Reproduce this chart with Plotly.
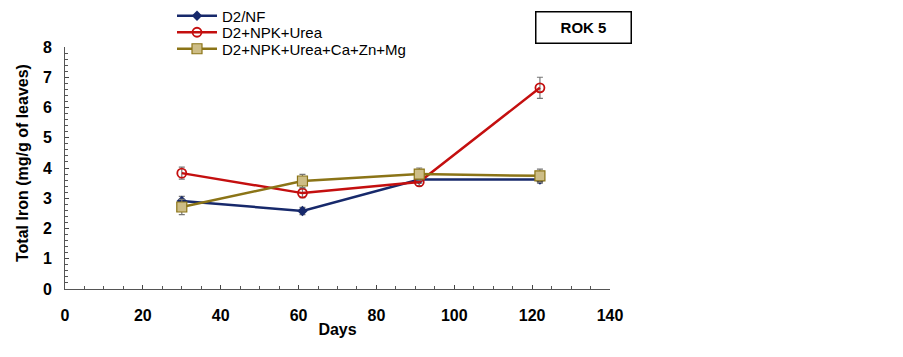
import plotly.graph_objects as go

days = [30, 61, 91, 122]
nf = [2.91, 2.58, 3.62, 3.62]
nf_err = [0.15, 0.12, 0.12, 0.12]
urea = [3.83, 3.17, 3.54, 6.65]
urea_err = [0.2, 0.15, 0.12, 0.35]
mix = [2.71, 3.57, 3.80, 3.74]
mix_err = [0.25, 0.22, 0.2, 0.22]

names = ["D2/NF", "D2+NPK+Urea", "D2+NPK+Urea+Ca+Zn+Mg"]
x_ticks = [0, 20, 40, 60, 80, 100, 120, 140]
y_ticks = [0, 1, 2, 3, 4, 5, 6, 7, 8]

FONT = "Liberation Sans, Arial, sans-serif"
W, H = 903, 357
OFF = 8  # page body margin

fig = go.Figure()
fig.add_trace(go.Scatter(
    x=days, y=nf, name=names[0], mode="lines+markers", legend="legend",
    line=dict(color="#17296B", width=2.5),
    marker=dict(symbol="diamond", size=8, color="#17296B"),
    error_y=dict(type="data", array=nf_err, color="#777777", thickness=1.2, width=3)))
fig.add_trace(go.Scatter(
    x=days, y=urea, name=names[1], mode="lines+markers", legend="legend2",
    line=dict(color="#C40F0F", width=2.5),
    marker=dict(symbol="circle-open", size=9, color="#C40F0F", line=dict(width=1.8)),
    error_y=dict(type="data", array=urea_err, color="#777777", thickness=1.2, width=3)))
fig.add_trace(go.Scatter(
    x=days, y=mix, name=names[2], mode="lines+markers", legend="legend3",
    line=dict(color="#8B7417", width=2.5),
    marker=dict(symbol="square", size=10, color="#CDBD86", line=dict(color="#8B7417", width=1.2)),
    error_y=dict(type="data", array=mix_err, color="#777777", thickness=1.2, width=3)))

def leg(ycen):
    return dict(xref="container", yref="container", x=(172 - OFF) / W, y=1 - (ycen - OFF) / H,
                xanchor="left", yanchor="middle",
                font=dict(size=15, family=FONT, color="black"),
                bgcolor="rgba(0,0,0,0)", itemwidth=40)

fig.update_layout(
    width=W, height=H,
    margin=dict(l=65 - OFF, r=W - (610 - OFF), t=47 - OFF, b=H - (289 - OFF), autoexpand=False),
    paper_bgcolor="white", plot_bgcolor="white",
    font=dict(family=FONT, color="black"),
    legend=leg(16), legend2=leg(32.5), legend3=leg(49),
    showlegend=True,
    xaxis=dict(range=[0, 140], tickvals=x_ticks, ticks="inside", ticklen=4,
               showline=True, linecolor="#555555", linewidth=1, showgrid=False, zeroline=False,
               ticklabelstandoff=12,
               tickfont=dict(size=16, family=FONT, color="black", weight="bold"),
               minor=dict(dtick=5, ticks="inside", ticklen=3, tickcolor="#555555"),
               title=dict(text="<b>Days</b>", font=dict(size=16, family=FONT), standoff=0)),
    yaxis=dict(range=[0, 8], tickvals=y_ticks, ticks="inside", ticklen=4,
               showline=True, linecolor="#555555", linewidth=1, showgrid=False, zeroline=False,
               ticklabelstandoff=9,
               tickfont=dict(size=16, family=FONT, color="black", weight="bold"),
               minor=dict(dtick=0.2, ticks="inside", ticklen=3, tickcolor="#555555")),
    annotations=[
        dict(text="<b>ROK 5</b>", xref="paper", yref="paper",
             x=(583 - 65) / 545, y=1 + (47 - 28) / 242, xanchor="center", yanchor="middle",
             showarrow=False, font=dict(size=15, family=FONT, color="black"),
             bordercolor="black", borderwidth=1.5, borderpad=7, width=80, height=16),
        dict(text="<b>Total Iron (mg/g of leaves)</b>", xref="paper", yref="paper",
             x=(22 - 65) / 545, y=(289 - 163) / 242, xanchor="center", yanchor="middle",
             textangle=-90, showarrow=False, font=dict(size=16, family=FONT, color="black")),
    ],
)
fig.write_html("out.html")
